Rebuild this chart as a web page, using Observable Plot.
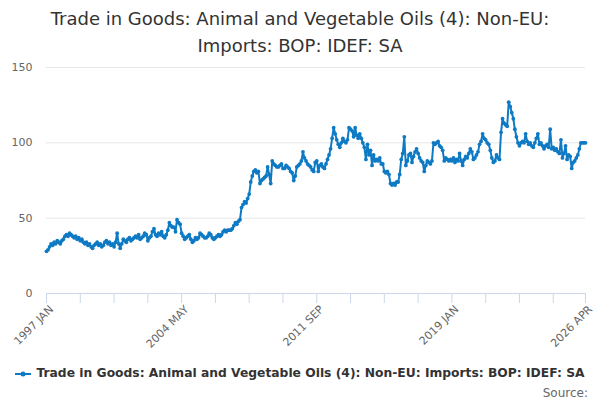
<!DOCTYPE html>
<html>
<head>
<meta charset="utf-8">
<script src="https://cdn.jsdelivr.net/npm/d3@7"></script>
<script src="https://cdn.jsdelivr.net/npm/@observablehq/plot@0.6"></script>
<style>
  html, body { margin: 0; padding: 0; background: #fff; }
  #wrap { width: 600px; height: 400px; position: relative; font-family: "DejaVu Sans", sans-serif; }
  #title { height: 58px; text-align: center; color: #333; font-size: 18px; line-height: 27px; padding-top: 5px; box-sizing: border-box; }
  #legend { position: absolute; left: 0; top: 366px; width: 600px; text-align: center; font-size: 12.3px; font-weight: bold; color: #333; white-space: nowrap; }
  #legend svg { vertical-align: middle; margin-right: 5px; }
  #source { position: absolute; right: 12px; top: 386px; font-size: 12px; color: #666; }
</style>
</head>
<body>
<div id="wrap">
  <div id="title">Trade in Goods: Animal and Vegetable Oils (4): Non-EU:<br>Imports: BOP: IDEF: SA</div>
  <div id="chart"></div>
  <div id="legend"><svg width="16" height="10"><line x1="0" y1="5" x2="16" y2="5" stroke="#0e7ac4" stroke-width="2"/><circle cx="8" cy="5" r="2.5" fill="#0e7ac4"/></svg>Trade in Goods: Animal and Vegetable Oils (4): Non-EU: Imports: BOP: IDEF: SA</div>
  <div id="source">Source:</div>
</div>
<script>
// Monthly values, 1997 JAN .. 2026 APR
const values = [
  28, 29, 31, 33, 32, 34, 33, 35, 34, 33, 35, 36,
  38, 39, 38, 40, 39, 38, 37, 38, 36, 37, 35, 36,
  34, 33, 34, 32, 33, 31, 30, 32, 33, 34, 32, 33,
  31, 32, 34, 35, 33, 34, 32, 33, 31, 34, 40, 33,
  30, 33, 36, 35, 34, 36, 37, 35, 36, 37, 38, 37,
  39, 36, 37, 38, 40, 39, 35, 37, 38, 41, 43, 39,
  38, 40, 39, 41, 38, 37, 39, 42, 47, 45, 44, 44,
  41, 49, 47, 46, 40, 38, 36, 37, 38, 39, 36, 34,
  35, 37, 36, 37, 40, 39, 38, 37, 37, 38, 40, 39,
  37, 36, 37, 38, 39, 38, 39, 41, 42, 41, 42, 42,
  42, 43, 45, 47, 46, 48, 49, 57, 59, 61, 60, 63,
  66, 74, 78, 81, 82, 80, 81, 73, 75, 76, 77, 78,
  84, 79, 73, 88, 86, 85, 84, 84, 85, 86, 83, 83,
  85, 84, 83, 81, 80, 75, 78, 84, 85, 86, 88, 94,
  90, 88, 86, 85, 84, 82, 81, 87, 88, 81, 85, 86,
  84, 83, 86, 89, 92, 96, 103, 110, 106, 102, 99, 97,
  100, 103, 101, 100, 102, 110, 109, 108, 104, 110, 105, 103,
  106, 103, 100, 97, 89, 99, 92, 95, 85, 92, 88, 89,
  88, 90, 86, 86, 81, 80, 81, 79, 73, 72, 73, 72,
  74, 74, 79, 89, 93, 104, 85, 88, 92, 93, 87, 91,
  94, 96, 93, 90, 88, 87, 81, 85, 88, 87, 86, 88,
  100, 99, 100, 101, 98, 97, 95, 88, 90, 89, 88, 89,
  88, 90, 87, 89, 88, 93, 88, 85, 89, 91, 90, 93,
  96, 94, 89, 90, 92, 94, 99, 101, 106, 103, 102, 100,
  99, 95, 90, 87, 88, 92, 90, 89, 107, 116, 113, 112,
  111, 127, 124, 120, 116, 109, 104, 100, 98, 100, 101, 100,
  106, 101, 99, 100, 98, 97, 100, 103, 106, 99, 100, 98,
  96, 98, 99, 97, 109, 96, 97, 95, 96, 94, 93, 102,
  90, 93, 98, 89, 92, 91, 83, 87, 88, 90, 92, 96,
  100, 100, 100, 100
];
const monthNames = ["JAN","FEB","MAR","APR","MAY","JUN","JUL","AUG","SEP","OCT","NOV","DEC"];
const startYear = 1997;
const yTicks = [0, 50, 100, 150];
const tickLabels = ["1997 JAN", "2004 MAY", "2011 SEP", "2019 JAN", "2026 APR"];

const monthLabel = i => `${startYear + Math.floor(i / 12)} ${monthNames[i % 12]}`;
const data = values.map((v, i) => ({i, label: monthLabel(i), v}));
const n = values.length;
const labelIdx = tickLabels.map(t => data.findIndex(d => d.label === t));
const tickIdx = d3.range(0, n - 1, 22).concat([n - 1]);

const color = "#0e7ac4";
const chart = Plot.plot({
  width: 600,
  height: 300,
  marginLeft: 46,
  marginRight: 15,
  marginTop: 9,
  marginBottom: 65,
  style: {fontFamily: "DejaVu Sans, sans-serif", fontSize: "11px", color: "#666", background: "#fff"},
  x: {domain: [0, n - 1]},
  y: {domain: [0, 150]},
  marks: [
    Plot.gridY(yTicks.filter(t => t > 0), {stroke: "#e6e6e6", strokeOpacity: 1}),
    Plot.ruleY([0], {stroke: "#ccd6eb", strokeWidth: 1}),
    Plot.axisY(yTicks, {tickSize: 0, tickPadding: 14, label: null, fill: "#666"}),
    Plot.axisX(tickIdx, {tickSize: 10, stroke: "#ccd6eb", strokeOpacity: 1, tickFormat: () => "", label: null}),
    Plot.axisX(labelIdx, {tickSize: 0, tickPadding: 14, dx: 5, tickRotate: -45, tickFormat: i => data[i].label, label: null, fill: "#666"}),
    Plot.line(data, {x: "i", y: "v", stroke: color, strokeWidth: 2}),
    Plot.dot(data, {x: "i", y: "v", r: 1.9, fill: color, stroke: null})
  ]
});
document.getElementById("chart").appendChild(chart);
</script>
</body>
</html>
